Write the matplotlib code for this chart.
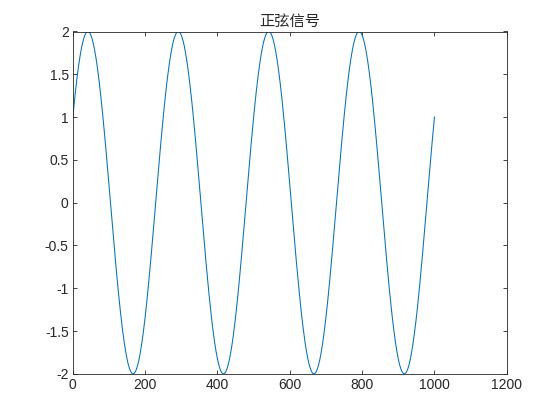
import matplotlib

matplotlib.use("Agg")
import matplotlib.pyplot as plt
import numpy as np


# Signal parameters
N_SAMPLES = 1000
AMPLITUDE = 2.0
PERIOD = 250.0          # samples per cycle (peaks at ~42, 292, 542, 792)
PHASE = np.pi / 6       # starts at y = 1
TITLE = "正弦信号"

X_TICKS = [0, 200, 400, 600, 800, 1000, 1200]
Y_TICKS = [-2, -1.5, -1, -0.5, 0, 0.5, 1, 1.5, 2]
Y_TICK_LABELS = ["-2", "-1.5", "-1", "-0.5", "0", "0.5", "1", "1.5", "2"]

LINE_COLOR = "#0072BD"
AXIS_COLOR = "#262626"


def main():
    plt.rcParams["font.family"] = ["Liberation Sans", "Noto Sans CJK SC", "DejaVu Sans"]

    n = np.arange(N_SAMPLES + 1)
    signal = AMPLITUDE * np.sin(2 * np.pi * n / PERIOD + PHASE)

    fig = plt.figure(figsize=(5.6, 4.2), dpi=100)
    ax = fig.add_axes([0.13, 0.11, 0.775, 0.815])

    ax.plot(n, signal, color=LINE_COLOR, linewidth=0.75)

    ax.set_xlim(0, 1200)
    ax.set_ylim(-2, 2)
    ax.set_xticks(X_TICKS)
    ax.set_yticks(Y_TICKS)
    ax.set_yticklabels(Y_TICK_LABELS)

    # MATLAB-style box: ticks inward on all four sides
    ax.tick_params(direction="in", length=3, width=0.6, colors=AXIS_COLOR,
                   labelsize=10, top=True, right=True, pad=3)
    for spine in ax.spines.values():
        spine.set_color(AXIS_COLOR)
        spine.set_linewidth(0.6)

    ax.set_title(TITLE, fontsize=11, color=AXIS_COLOR,
                 family=["Noto Sans CJK SC", "DejaVu Sans"], pad=4)

    fig.savefig("out.png", dpi=100)
    plt.close(fig)


if __name__ == "__main__":
    main()
